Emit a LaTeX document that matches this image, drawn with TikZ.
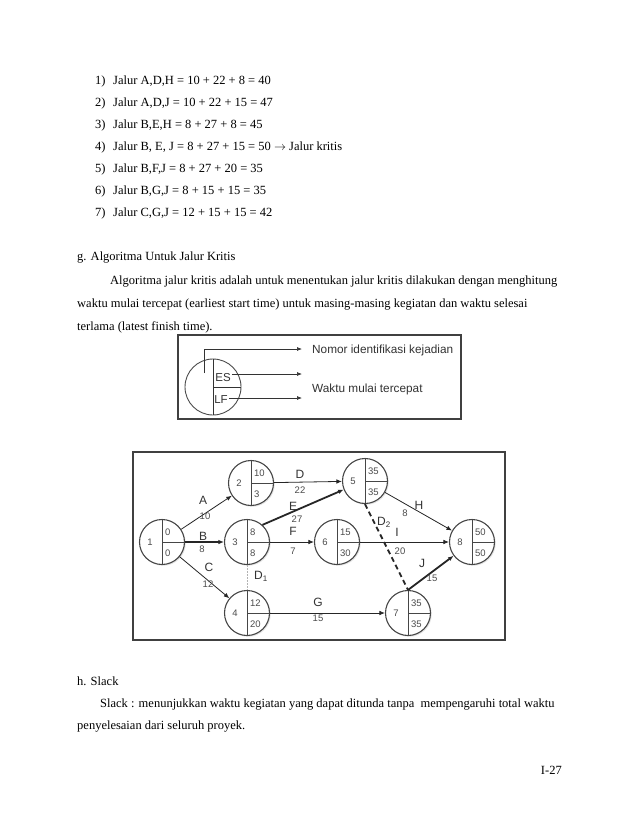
\documentclass[tikz,border=0pt]{standalone}
\usepackage{fontspec}
\setmainfont{Liberation Serif}
\newfontfamily\refsans{Liberation Sans}
\usetikzlibrary{arrows.meta,shadows}
\newcommand{\refbody}{\fontsize{12.5}{14}\selectfont}
\newcommand{\evt}[6]{%
  \node[evt] (#1) at (#2,#3) {};
  \draw[evtline] (#1.north) -- (#1.south);
  \draw[evtline] (#1.center) -- (#1.east);
  \node[evtnum,anchor=center] (#1-id) at (#2-12,#3) {#4};
  \node[evtnum,anchor=west] (#1-es) at (#2+3,#3-10) {#5};
  \node[evtnum,anchor=west] (#1-lf) at (#2+3,#3+11) {#6};
}
\begin{document}
\begin{tikzpicture}[x=1pt,y=-1pt,
  txt/.style={anchor=base west,inner sep=0pt,font=\refbody},
  evt/.style={circle,draw=gray!55!black,line width=1.1pt,fill=white,minimum size=45pt,inner sep=0pt,
    drop shadow={shadow xshift=1.2pt,shadow yshift=-1.2pt,fill=gray!45}},
  evtline/.style={draw=gray!55!black,line width=1pt},
  evtnum/.style={inner sep=0pt,font=\refsans\fontsize{9.5}{10}\selectfont,text=black!70},
  elet/.style={inner sep=0pt,font=\refsans\fontsize{12}{13}\selectfont,text=black!80},
  enum/.style={inner sep=0pt,font=\refsans\fontsize{9.5}{10}\selectfont,text=black!70},
  edge/.style={draw=black!85,line width=0.8pt,-{Latex[length=5.5pt,width=4.5pt]}},
  crit/.style={edge,line width=1.8pt},
  dumA/.style={draw=gray!60,line width=1pt,dash pattern=on 1.5pt off 1.5pt},
  dumB/.style={draw=black!85,line width=1.8pt,dash pattern=on 5pt off 3.5pt},
  frame/.style={draw=gray!50!black,line width=1.4pt},
  lg/.style={draw=black!80,line width=0.7pt},
  lgarrow/.style={lg,-{Latex[length=5pt,width=4pt]}},
  lgtxt/.style={anchor=west,inner sep=0pt,font=\refsans\fontsize{11.8}{13}\selectfont,text=black!80},
]
\fill[white] (0,0) rectangle (638,826);
\useasboundingbox (0,0) rectangle (638,826);

% ---- list ----
\foreach \i/\t [count=\k from 0] in {1/{Jalur A,D,H = 10 + 22 + 8 = 40},
  2/{Jalur A,D,J = 10 + 22 + 15 = 47},
  3/{Jalur B,E,H = 8 + 27 + 8 = 45},
  4/{Jalur B, E, J = 8 + 27 + 15 = 50 \ensuremath{\rightarrow} Jalur kritis},
  5/{Jalur B,F,J = 8 + 27 + 20 = 35},
  6/{Jalur B,G,J = 8 + 15 + 15 = 35},
  7/{Jalur C,G,J = 12 + 15 + 15 = 42}}{
  \node[txt] (num\i) at (95,85+21.9*\k) {\i)};
  \node[txt] (item\i) at (113,85+21.9*\k) {\t};
}

\node[txt] (gtitle) at (77,260) {g. Algoritma Untuk Jalur Kritis};
\node[txt] (p1) at (110,284) {Algoritma jalur kritis adalah untuk menentukan jalur kritis dilakukan dengan menghitung};
\node[txt] (p2) at (77,307) {waktu mulai tercepat (earliest start time) untuk masing-masing kegiatan dan waktu selesai};
\node[txt] (p3) at (77,330) {terlama (latest finish time).};

% ---- legend ----
\draw[frame] (178,335) rectangle (461,419);
\node[circle,draw=gray!60!black,line width=0.9pt,minimum size=56pt,inner sep=0pt] (lc) at (213,387) {};
\draw[lg] (lc.north) -- (lc.south);
\draw[lg] (lc.center) -- (lc.east);
\node[inner sep=0pt,font=\refsans\fontsize{11.5}{12}\selectfont,text=black!80] (les) at (223,378) {ES};
\node[inner sep=0pt,font=\refsans\fontsize{11.5}{12}\selectfont,text=black!80] (llf) at (221,400) {LF};
\coordinate (ls) at (204,373);
\coordinate (a1) at (302,349);
\coordinate (a2) at (302,374);
\coordinate (a3) at (302,398);
\draw[lgarrow] (ls) |- (a1);
\draw[lgarrow] (les.east) ++(1,-4) -- (a2);
\draw[lgarrow] (llf.east) ++(1,-2) -- (a3);
\node[lgtxt] (tnomor) at (312,350) {Nomor identifikasi kejadian};
\node[lgtxt] (twaktu) at (312,389) {Waktu mulai tercepat};

% ---- network ----
\draw[frame] (133,452) rectangle (505,640);
\evt{n1}{162}{542}{1}{0}{0}
\evt{n2}{251}{483}{2}{10}{3}
\evt{n3}{247}{542}{3}{8}{8}
\evt{n4}{247}{613}{4}{12}{20}
\evt{n5}{365}{481}{5}{35}{35}
\evt{n6}{337}{542}{6}{15}{30}
\evt{n7}{408}{613}{7}{35}{35}
\evt{n8}{472}{542}{8}{50}{50}

\draw[edge] (n1) -- (n2);
\draw[crit] (n1) -- (n3);
\draw[edge] (n1) -- (n4);
\draw[edge] (n2) -- (n5);
\draw[crit] (n3.48) -- (n5.202);
\draw[edge] (n3) -- (n6);
\draw[dumA] (n3.south) -- (n4.north);
\draw[edge] (n4) -- (n7);
\draw[edge] (n5) -- (n8);
\draw[dumB] (n5.south) -- (n7.north);
\draw[edge] (n6) -- (n8);
\draw[crit] (n7.north) -- (n8);

\node[elet] (lA) at (203,500) {A};  \node[enum] (vA) at (205,516) {10};
\node[elet] (lB) at (203,536) {B};  \node[enum] (vB) at (202,549) {8};
\node[elet] (lC) at (209,567) {C};  \node[enum] (vC) at (208,584) {12};
\node[elet] (lD) at (300,474) {D};  \node[enum] (vD) at (300,490) {22};
\node[elet] (lE) at (293,506) {E};  \node[enum] (vE) at (297,519) {27};
\node[elet] (lF) at (293,531) {F};  \node[enum] (vF) at (293,551) {7};
\node[elet] (lD1) at (261,576) {D\textsubscript{1}};
\node[elet] (lG) at (318,602) {G};  \node[enum] (vG) at (318,618) {15};
\node[elet] (lH) at (419,505) {H};  \node[enum] (vH) at (405,513) {8};
\node[elet] (lD2) at (384,522) {D\textsubscript{2}};
\node[elet] (lI) at (397,532) {I};  \node[enum] (vI) at (400,551) {20};
\node[elet] (lJ) at (422,563) {J};  \node[enum] (vJ) at (432,578) {15};

% ---- slack ----
\node[txt] (htitle) at (77,685) {h. Slack};
\node[txt] (s1) at (100,707) {Slack : menunjukkan waktu kegiatan yang dapat ditunda tanpa\ \ mempengaruhi total waktu};
\node[txt] (s2) at (77,729) {penyelesaian dari seluruh proyek.};
\node[txt,anchor=base east] (pg) at (562,774) {I-27};
\end{tikzpicture}
\end{document}
